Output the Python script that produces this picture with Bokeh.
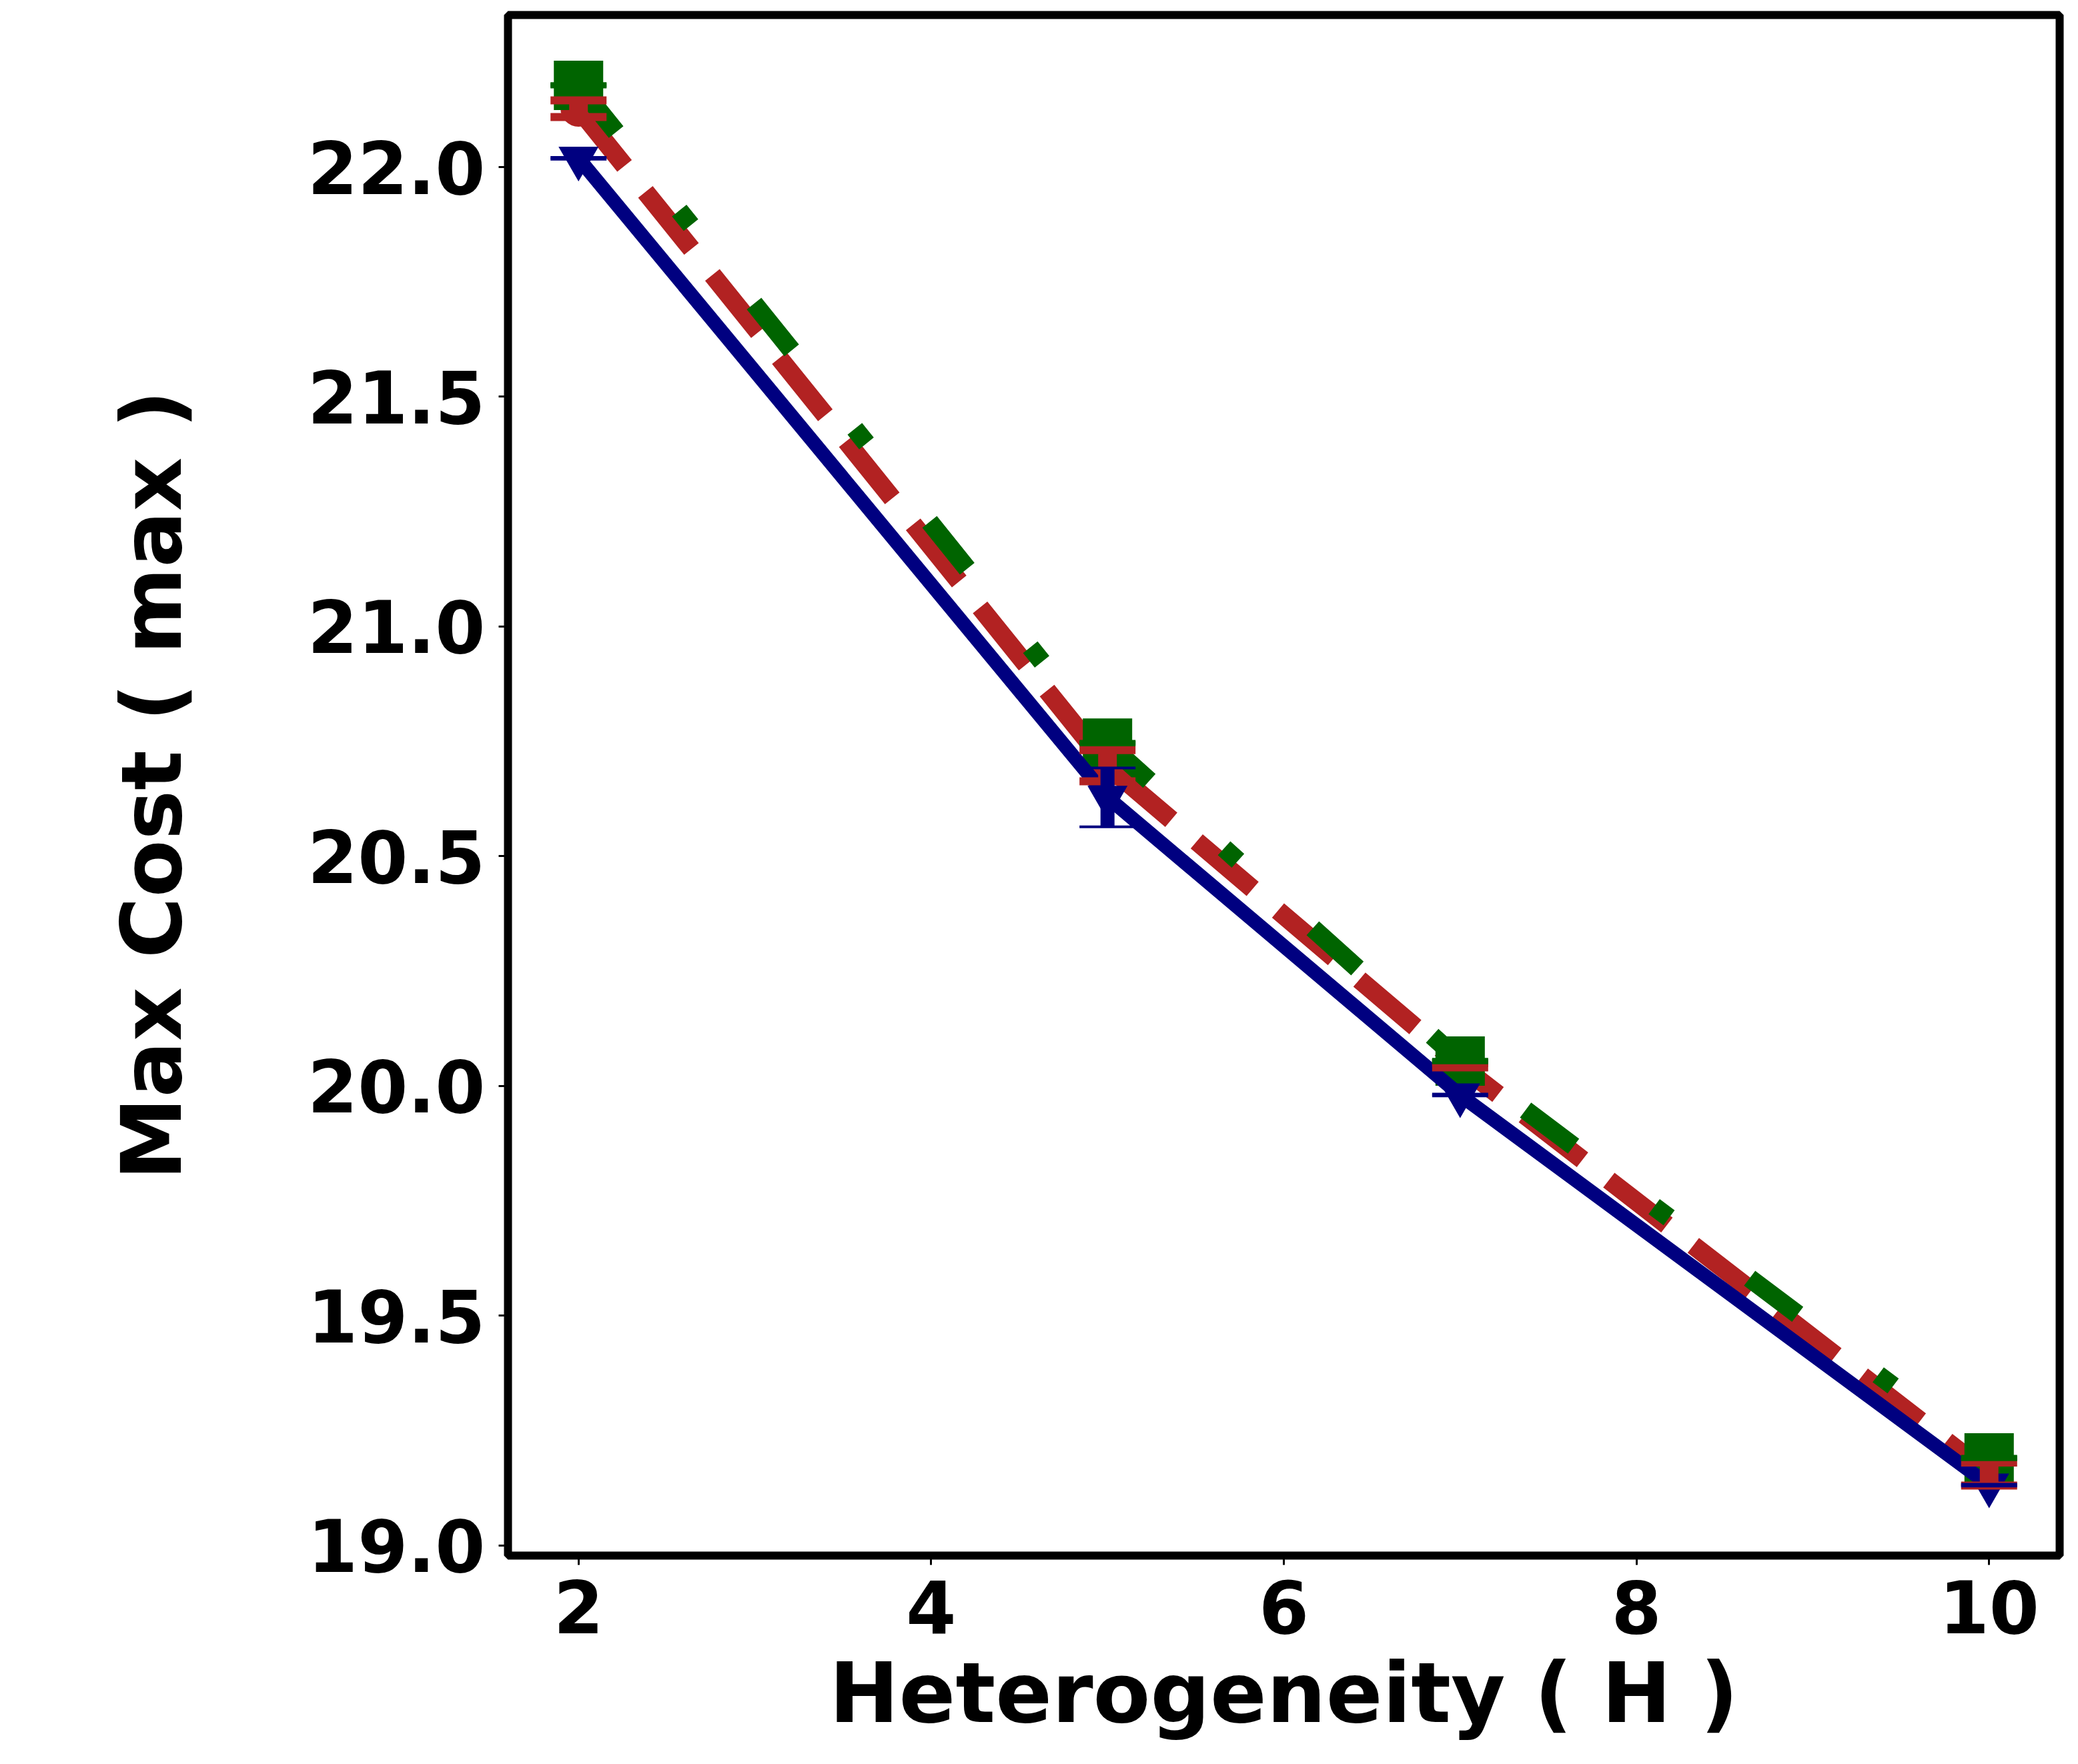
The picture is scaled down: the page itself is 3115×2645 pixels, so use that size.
from bokeh.plotting import figure
from bokeh.models import Range1d, FixedTicker, PrintfTickFormatter, Whisker, TeeHead, ColumnDataSource
from bokeh.embed import file_html
from bokeh.resources import INLINE

# ---- data ----
heterogeneity = [2, 5, 7, 10]
cost_blue = [22.019, 20.628, 19.980, 19.131]
err_blue = [0.002, 0.064, 0.002, 0.002]
cost_red = [22.127, 20.697, 20.045, 19.155]
err_red = [0.018, 0.034, 0.005, 0.025]
cost_green = [22.178, 20.746, 20.054, 19.190]
err_green = [0.001, 0.001, 0.001, 0.001]
x_ticks = [2, 4, 6, 8, 10]
y_ticks = [19.0, 19.5, 20.0, 20.5, 21.0, 21.5, 22.0]
x_label = "Heterogeneity ( H )"
y_label = "Max Cost ( max )"

FONT = "DejaVu Sans"

p = figure(frame_width=2326, frame_height=2310,
           min_border_left=761, min_border_right=17,
           min_border_top=22, min_border_bottom=290,
           x_range=Range1d(1.6, 10.4), y_range=Range1d(18.9775, 22.331),
           output_backend="svg", toolbar_location=None)

p.background_fill_color = "white"
p.border_fill_color = "white"
p.outline_line_color = "black"
p.outline_line_width = 12
p.grid.visible = False

for ax in (p.xaxis, p.yaxis):
    ax.axis_line_color = None
    ax.major_tick_in = 0
    ax.major_tick_out = 14
    ax.major_tick_line_width = 3
    ax.major_tick_line_color = "black"
    ax.minor_tick_line_color = None
    ax.major_label_text_font = FONT
    ax.major_label_text_font_style = "bold"
    ax.major_label_text_font_size = "108px"
    ax.major_label_text_color = "black"
    ax.axis_label_text_font = FONT
    ax.axis_label_text_font_style = "bold"
    ax.axis_label_text_font_size = "125px"
    ax.axis_label_text_color = "black"

p.xaxis.ticker = FixedTicker(ticks=x_ticks)
p.yaxis.ticker = FixedTicker(ticks=y_ticks)
p.yaxis.formatter = PrintfTickFormatter(format="%.1f")
p.xaxis.major_label_standoff = 22
p.yaxis.major_label_standoff = 20
p.xaxis.axis_label = x_label
p.yaxis.axis_label = y_label
p.xaxis.axis_label_standoff = 14
p.yaxis.axis_label_standoff = 158

series = [
    (cost_red, err_red, "#B22222", 28, "110 50", "circle", 54, 12),
    (cost_green, err_green, "#006400", 28, "90 151 28 151", "square", 74, 8),
    (cost_blue, err_blue, "#000080", 21, "solid", "inverted_triangle", 60, 4),
]

for ys, es, col, lw, dash, marker, msize, capw in series:
    src = ColumnDataSource(dict(
        x=heterogeneity, y=ys,
        lo=[y - e for y, e in zip(ys, es)],
        hi=[y + e for y, e in zip(ys, es)],
    ))
    p.line("x", "y", source=src, line_color=col, line_width=lw, line_dash=dash)
    w = Whisker(source=src, base="x", lower="lo", upper="hi", dimension="height",
                line_color=col, line_width=lw, level="glyph",
                upper_head=TeeHead(size=84, line_color=col, line_width=capw),
                lower_head=TeeHead(size=84, line_color=col, line_width=capw))
    p.add_layout(w)
    p.scatter("x", "y", source=src, marker=marker, size=msize,
              fill_color=col, line_color=col, line_width=0)

open("out.html", "w").write(file_html(p, INLINE))
